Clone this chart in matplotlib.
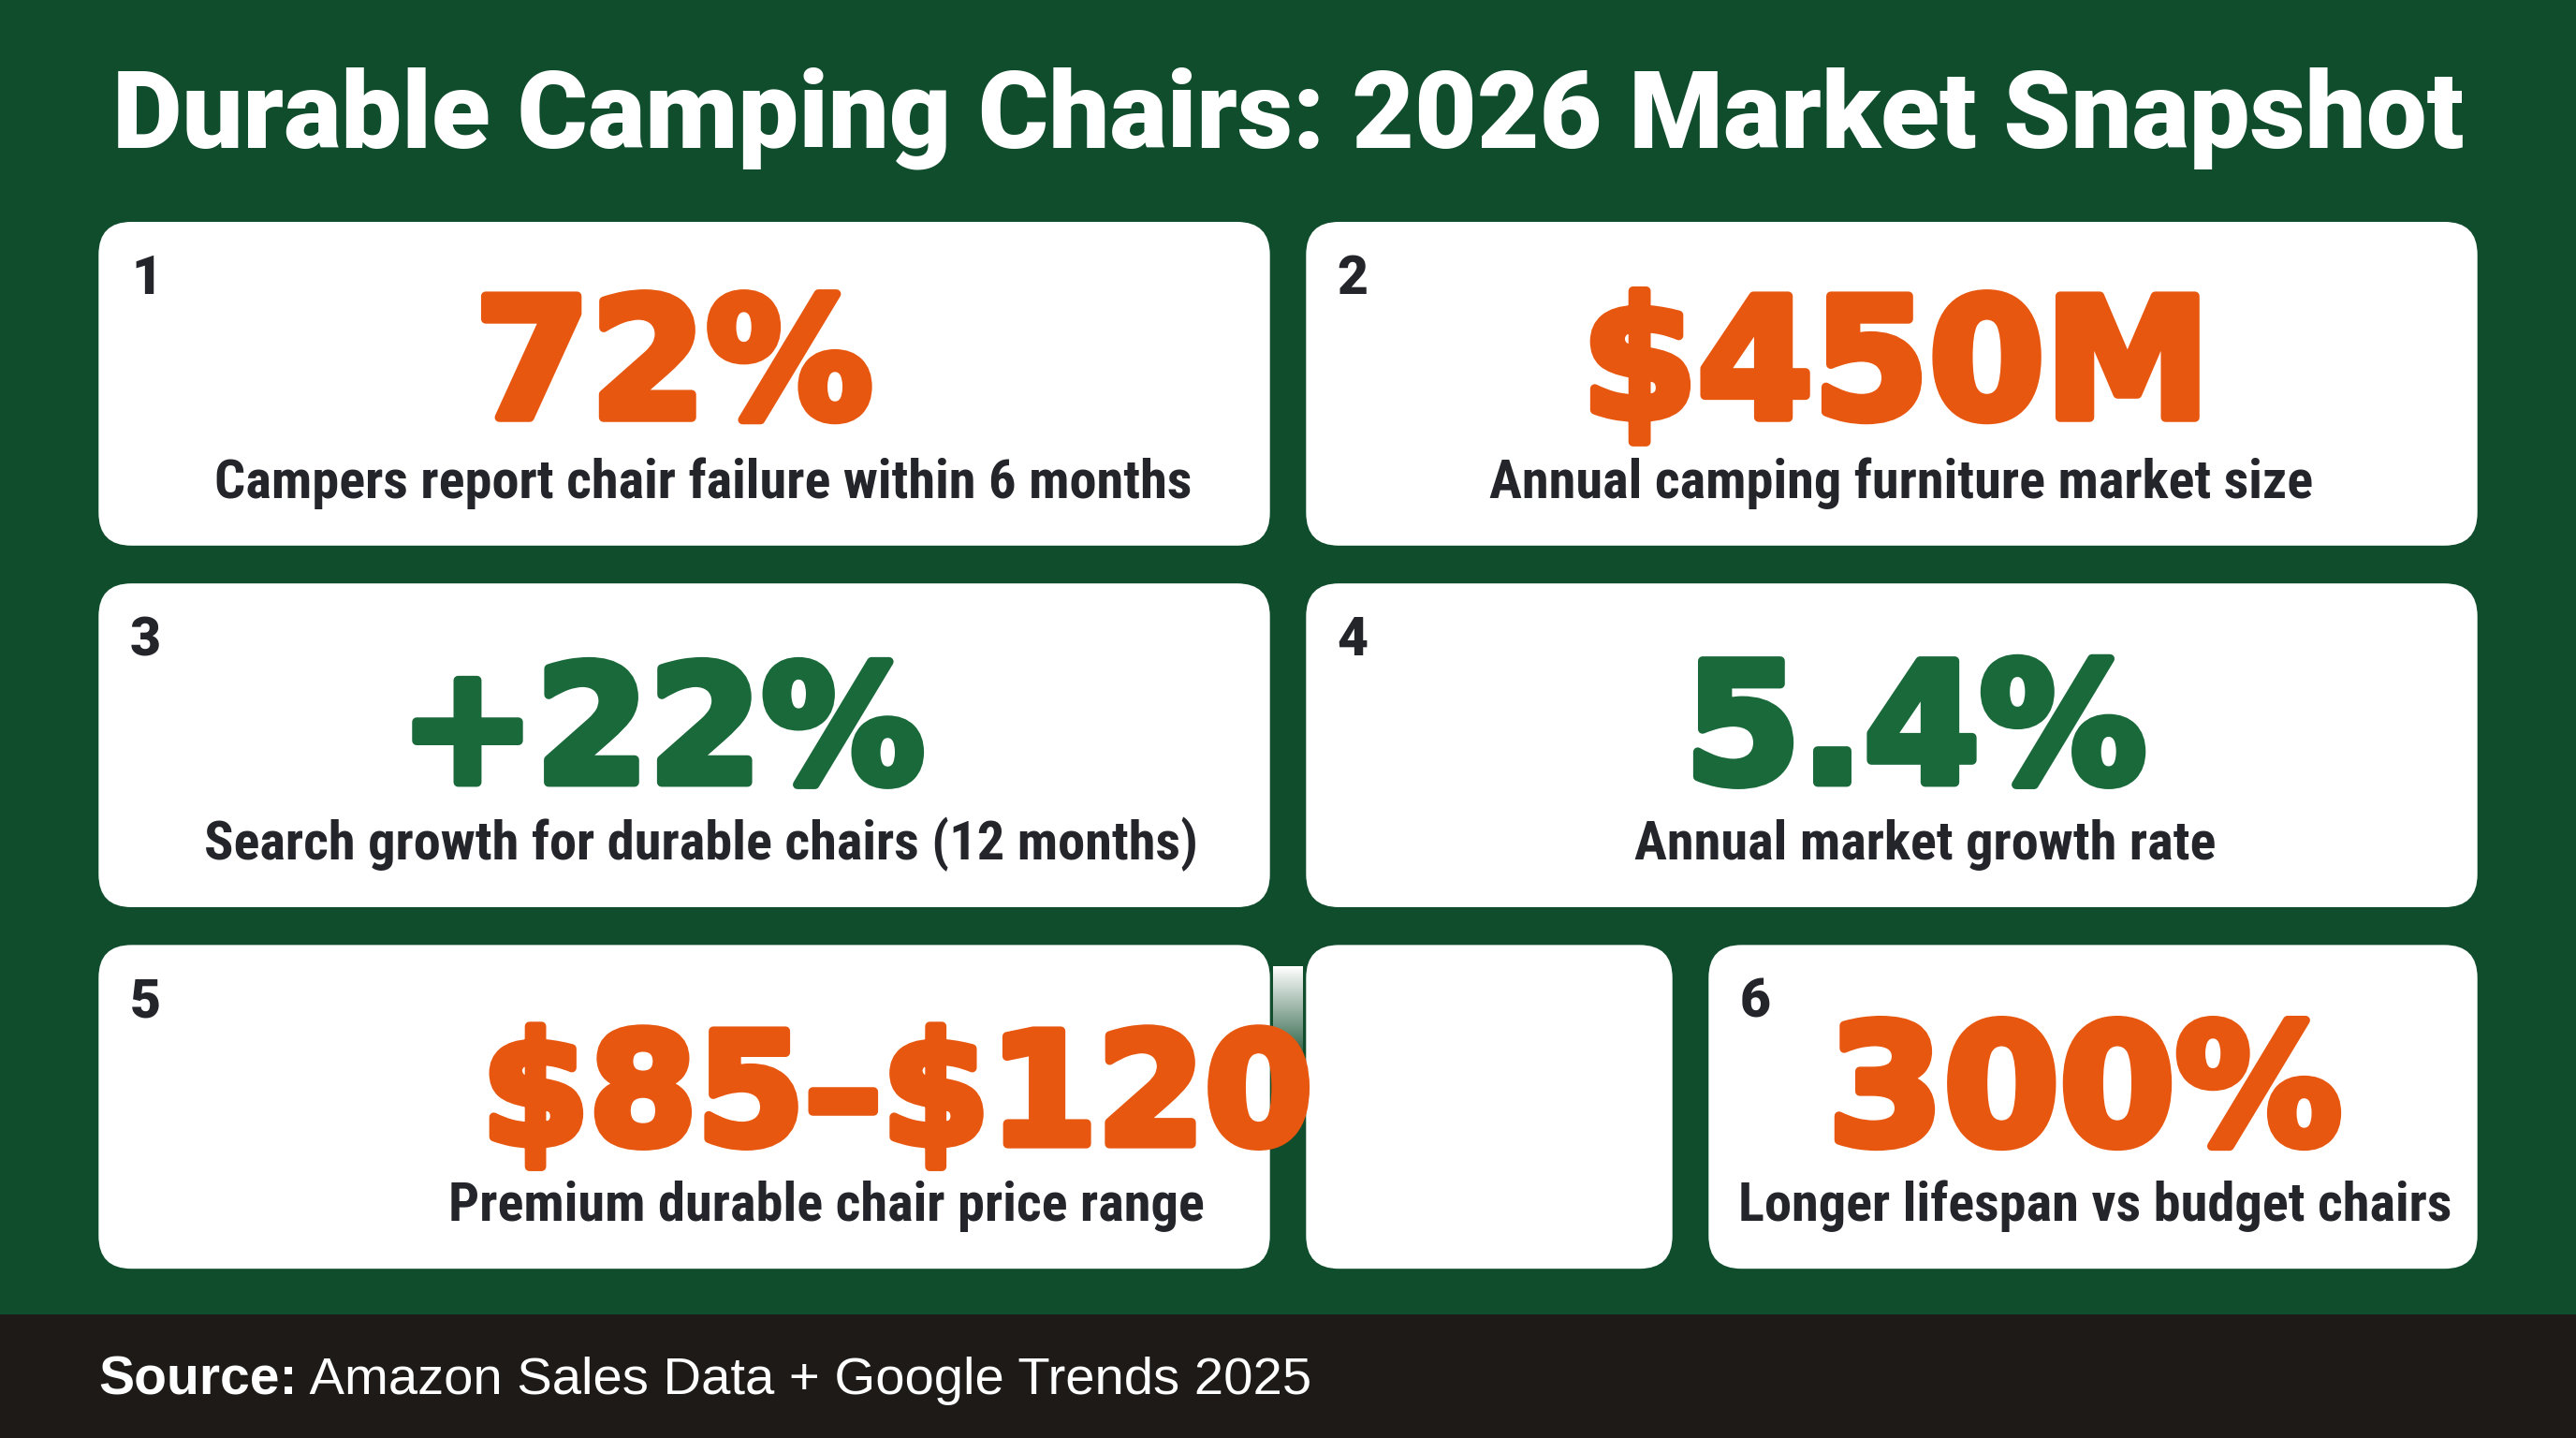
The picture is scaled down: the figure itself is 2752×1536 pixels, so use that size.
import matplotlib
matplotlib.use("Agg")
import matplotlib.pyplot as plt
import matplotlib.patheffects as pe
import numpy as np
from matplotlib import font_manager
from matplotlib.font_manager import FontProperties
from matplotlib.patches import FancyBboxPatch, Rectangle

# --- data -------------------------------------------------------------------
title = "Durable Camping Chairs: 2026 Market Snapshot"
card_numbers = ["1", "2", "3", "4", "5", "6"]
card_values = ["72%", "$450M", "+22%", "5.4%", "$85\u2013$120", "300%"]
card_labels = [
    "Campers report chair failure within 6 months",
    "Annual camping furniture market size",
    "Search growth for durable chairs (12 months)",
    "Annual market growth rate",
    "Premium durable chair price range",
    "Longer lifespan vs budget chairs",
]
value_kind = ["orange", "orange", "green", "green", "orange", "orange"]
source_bold = "Source:"
source_text = " Amazon Sales Data + Google Trends 2025"

# --- layout (reference pixel grid 1568 x 875) --------------------------------
W, H = 1568, 875
card_boxes = [  # x0, y0, x1, y1
    (60, 135, 773, 332),
    (795, 135, 1508, 332),
    (60, 355, 773, 552),
    (795, 355, 1508, 552),
    (60, 575, 773, 772),
    (1040, 575, 1508, 772),
]
blank_box = (795, 575, 1018, 772)
value_xy = [(410, 254), (1154, 254), (403, 476), (1166, 476), (546, 696), (1269, 696)]
value_size = [128, 128, 125, 128, 119, 128]
label_xy = [(428, 294), (1157, 294), (427, 514), (1172, 514), (503, 734), (1275, 734)]
num_xy = [(80, 170), (814, 170), (79, 390), (814, 390), (79, 610), (1059, 610)]

BG = "#0f4d2c"
FOOT = "#1d1a17"
ORANGE = "#e8570f"
GREEN = "#19693a"
DARK = "#23252b"
colors = {"orange": ORANGE, "green": GREEN}


# --- fonts --------------------------------------------------------------------
def heaviest(families, min_w=0):
    best = None
    for fam in families:
        fl = [f for f in font_manager.fontManager.ttflist
              if f.name == fam and f.style == "normal" and isinstance(f.weight, int)]
        if fl:
            f = max(fl, key=lambda f: f.weight)
            if f.weight >= min_w:
                return FontProperties(fname=f.fname)
            if best is None:
                best = FontProperties(fname=f.fname)
    return best or FontProperties(family="DejaVu Sans", weight="bold")


def family_of(cands, default="DejaVu Sans"):
    names = {f.name for f in font_manager.fontManager.ttflist}
    for c in cands:
        if c in names:
            return c
    return default


heavy_fp = heaviest(["Roboto", "Inter", "Lato", "Open Sans"], min_w=900)
wide_fp = FontProperties(family="DejaVu Sans", weight="bold")
narrow = family_of(["Liberation Sans Narrow", "Roboto Condensed", "Open Sans Condensed", "Roboto"])
plain = family_of(["Liberation Sans", "Roboto", "Inter"])


def fp(base, size):
    p = base.copy()
    p.set_size(size)
    return p


# --- figure -------------------------------------------------------------------
fig = plt.figure(figsize=(27.52, 15.36), dpi=100)
fig.patch.set_facecolor(BG)
ax = fig.add_axes([0, 0, 1, 1])
ax.axis("off")

# footer band
ax.add_patch(Rectangle((0, 800), W, H - 800, facecolor=FOOT, edgecolor="none", zorder=1))


def card(box):
    x0, y0, x1, y1 = box
    ax.add_patch(FancyBboxPatch((x0, y0), x1 - x0, y1 - y0,
                                boxstyle="round,pad=0,rounding_size=20",
                                facecolor="white", edgecolor="none", zorder=2))


for box in card_boxes:
    card(box)
card(blank_box)

# faint white fade in the gap next to card 5
rgba = np.ones((64, 1, 4))
rgba[..., 3] = np.linspace(1, 0, 64)[:, None]
ax.imshow(rgba, extent=(775, 793, 650, 588), aspect="auto", zorder=2.5,
          interpolation="bilinear")
ax.set_xlim(0, W)
ax.set_ylim(H, 0)

ax.text(W / 2, 72, title, ha="center", va="center", color="white",
        fontproperties=fp(heavy_fp, 83), zorder=5)

for i in range(6):
    col = colors[value_kind[i]]
    ax.text(*num_xy[i], card_numbers[i], ha="left", va="center", color=DARK,
            fontproperties=fp(heavy_fp, 41), zorder=5)
    ax.text(*value_xy[i], card_values[i].replace("$", r"\$"), ha="center", va="baseline",
            color=col, fontproperties=fp(wide_fp, value_size[i]), zorder=5,
            path_effects=[pe.withStroke(linewidth=7, foreground=col)])
    ax.text(*label_xy[i], card_labels[i], ha="center", va="center", color=DARK,
            fontsize=42, fontweight="bold", family=narrow, zorder=5)

t = ax.text(60, 840, source_bold, ha="left", va="center", color="white",
            fontsize=41, fontweight="bold", family=plain, zorder=5)
fig.canvas.draw()
bb = t.get_window_extent()
x_end = ax.transData.inverted().transform((bb.x1, bb.y0))[0]
ax.text(x_end, 840, source_text, ha="left", va="center", color="white",
        fontsize=40.5, family=plain, zorder=5)

fig.savefig("out.png", dpi=100, facecolor=BG)
